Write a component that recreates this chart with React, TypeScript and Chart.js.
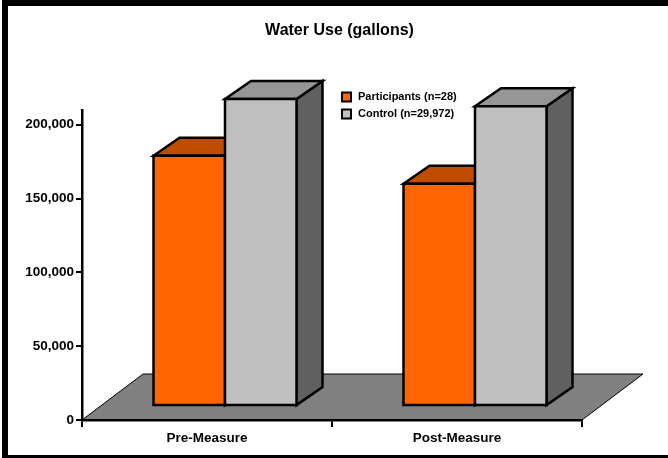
import { useEffect, useRef } from 'react';
import { Chart, registerables } from 'chart.js';

Chart.register(...registerables);

// ---- data ----
const categories = ['Pre-Measure', 'Post-Measure'];
const seriesLabels = ['Participants (n=28)', 'Control (n=29,972)'];
const participants = [169500, 150500];
const control = [208000, 203000];
const yTicks = [0, 50000, 100000, 150000, 200000];

// ---- styling ----
const FONT = 'Arial, "Liberation Sans", Helvetica, sans-serif';
const frontColors = ['#FF6600', '#C0C0C0'];
const topColors = ['#C04C00', '#969696'];
const sideColors = ['#8F3900', '#606060'];
const FRONT = { dx: 18, dy: -14 };
const DEPTH = { dx: 26, dy: -18 };
const FLOOR = { dx: 61, dy: -46 };

const threeDPlugin = {
  id: 'threeD',
  beforeDraw(chart: any) {
    const ctx = chart.ctx;
    const { left, right, bottom } = chart.chartArea;
    const W = chart.width;
    const H = chart.height;
    ctx.save();
    ctx.fillStyle = '#ffffff';
    ctx.fillRect(0, 0, W, H);
    ctx.fillStyle = '#000000';
    ctx.fillRect(2, 0, W - 2, 6);
    ctx.fillRect(2, 0, 6, H);
    ctx.fillRect(2, H - 3, W - 2, 3);
    // floor
    ctx.beginPath();
    ctx.moveTo(left, bottom);
    ctx.lineTo(left + FLOOR.dx, bottom + FLOOR.dy);
    ctx.lineTo(right + FLOOR.dx, bottom + FLOOR.dy);
    ctx.lineTo(right, bottom);
    ctx.closePath();
    ctx.fillStyle = '#808080';
    ctx.fill();
    ctx.lineWidth = 1;
    ctx.strokeStyle = '#000000';
    ctx.stroke();
    ctx.restore();
  },
  beforeDatasetsDraw(chart: any) {
    const ctx = chart.ctx;
    const n = chart.data.labels.length;
    ctx.save();
    ctx.lineWidth = 2.5;
    ctx.lineJoin = 'miter';
    ctx.strokeStyle = '#000000';
    for (let i = 0; i < n; i++) {
      chart.data.datasets.forEach((ds: any, di: number) => {
        const el = chart.getDatasetMeta(di).data[i];
        if (!el) return;
        const { x, y, base, width } = el.getProps(['x', 'y', 'base', 'width'], true);
        const x1 = x - width / 2 + FRONT.dx;
        const x2 = x + width / 2 + FRONT.dx;
        const yt = y + FRONT.dy;
        const yb = base + FRONT.dy;
        // side
        ctx.beginPath();
        ctx.moveTo(x2, yt);
        ctx.lineTo(x2 + DEPTH.dx, yt + DEPTH.dy);
        ctx.lineTo(x2 + DEPTH.dx, yb + DEPTH.dy);
        ctx.lineTo(x2, yb);
        ctx.closePath();
        ctx.fillStyle = sideColors[di];
        ctx.fill();
        ctx.stroke();
        // top
        ctx.beginPath();
        ctx.moveTo(x1, yt);
        ctx.lineTo(x1 + DEPTH.dx, yt + DEPTH.dy);
        ctx.lineTo(x2 + DEPTH.dx, yt + DEPTH.dy);
        ctx.lineTo(x2, yt);
        ctx.closePath();
        ctx.fillStyle = topColors[di];
        ctx.fill();
        ctx.stroke();
        // front
        ctx.beginPath();
        ctx.rect(x1, yt, x2 - x1, yb - yt);
        ctx.fillStyle = ds.backgroundColor;
        ctx.fill();
        ctx.stroke();
      });
    }
    ctx.restore();
    return false;
  },
  afterDraw(chart: any) {
    const ctx = chart.ctx;
    ctx.save();
    const lx = 342;
    const rows = [97, 114];
    ctx.font = `bold 11px ${FONT}`;
    ctx.textBaseline = 'middle';
    ctx.textAlign = 'left';
    chart.data.datasets.forEach((ds: any, di: number) => {
      const cy = rows[di];
      ctx.fillStyle = ds.backgroundColor;
      ctx.fillRect(lx, cy - 4.5, 9, 9);
      ctx.lineWidth = 2;
      ctx.strokeStyle = '#000000';
      ctx.strokeRect(lx, cy - 4.5, 9, 9);
      ctx.fillStyle = '#000000';
      ctx.fillText(ds.label, lx + 16, cy);
    });
    ctx.restore();
  },
};

export default function App() {
  const ref = useRef<HTMLCanvasElement | null>(null);
  useEffect(() => {
    if (!ref.current) return;
    const tickFont = { family: FONT, size: 13.5, weight: 'bold' as const };
    const chart = new Chart(ref.current, {
      type: 'bar',
      data: {
        labels: categories,
        datasets: [
          { label: seriesLabels[0], data: participants, backgroundColor: frontColors[0], barPercentage: 1, categoryPercentage: 0.572 },
          { label: seriesLabels[1], data: control, backgroundColor: frontColors[1], barPercentage: 1, categoryPercentage: 0.572 },
        ],
      },
      options: {
        responsive: false,
        animation: false,
        events: [],
        layout: { padding: { left: 11, right: 0, top: 0, bottom: 0 } },
        plugins: {
          legend: { display: false },
          tooltip: { enabled: false },
          title: {
            display: true,
            text: 'Water Use (gallons)',
            color: '#000000',
            font: { family: FONT, size: 16, weight: 'bold' },
            padding: { top: 21, bottom: 69.8 },
          },
        },
        scales: {
          x: {
            type: 'category',
            offset: true,
            grid: { display: true, offset: true, drawOnChartArea: false, drawTicks: true, tickLength: 7, color: '#000000', lineWidth: 2 },
            border: { display: true, color: '#000000', width: 2.5 },
            ticks: { color: '#000000', font: tickFont, padding: 3, maxRotation: 0 },
            afterFit: (s: any) => { s.height = 38; },
          },
          y: {
            type: 'linear',
            min: 0,
            max: 210000,
            grid: { drawOnChartArea: false, drawTicks: true, tickLength: 6, color: '#000000', lineWidth: 2 },
            border: { display: true, color: '#000000', width: 2.5 },
            ticks: {
              color: '#000000',
              font: tickFont,
              padding: 2,
              callback: (v: any) => Number(v).toLocaleString('en-US'),
            },
            afterBuildTicks: (s: any) => { s.ticks = yTicks.map((v) => ({ value: v })); },
            afterFit: (s: any) => { s.width = 71; },
          },
          y2: {
            type: 'linear',
            position: 'right',
            display: true,
            grid: { display: false, drawTicks: false },
            border: { display: false },
            ticks: { display: false },
            afterFit: (s: any) => { s.width = 86; },
          },
        },
      },
      plugins: [threeDPlugin],
    } as any);
    return () => chart.destroy();
  }, []);
  return (
    <div style={{ position: 'fixed', left: 0, top: 0, width: 668, height: 458 }}>
      <canvas ref={ref} width={668} height={458} style={{ display: 'block' }} />
    </div>
  );
}
